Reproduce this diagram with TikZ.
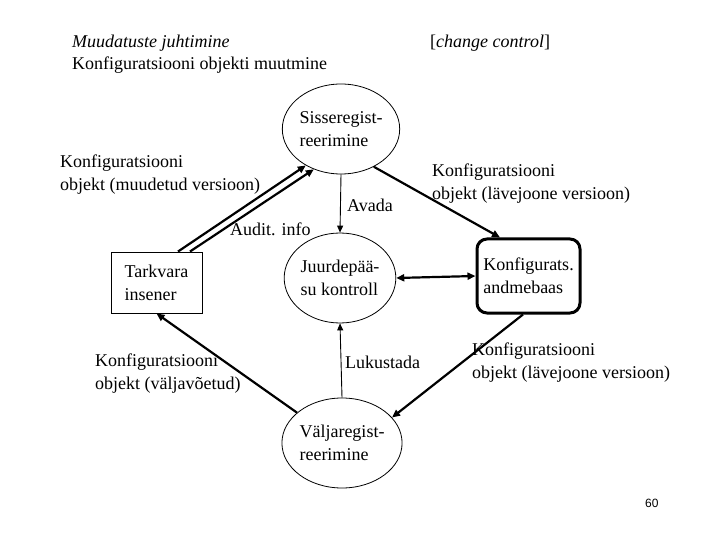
\documentclass[tikz,border=0pt]{standalone}
\usepackage{fontspec}
\setmainfont{Liberation Serif}
\newfontfamily\numfont{Liberation Sans}
\usetikzlibrary{shapes.geometric,arrows.meta}
\begin{document}
\begin{tikzpicture}[x=1bp,y=-1bp,
  every node/.style={font=\fontsize{18bp}{23bp}\selectfont},
  lbl/.style={anchor=west,align=left,inner sep=0pt},
  proc/.style={ellipse,draw,line width=0.8bp,minimum width=97bp,minimum height=90bp,inner sep=0pt,align=left},
  thin/.style={line width=0.9bp,-{Triangle[length=7bp,width=6bp]}},
  bold/.style={line width=2.2bp,-{Triangle[length=8bp,width=7bp]}},
  boldboth/.style={line width=2.2bp,{Triangle[length=8bp,width=7bp]}-{Triangle[length=8bp,width=7bp]}}]
\useasboundingbox (0,0) rectangle (720,540);
\fill[white] (0,0) rectangle (720,540);

% header
\node[lbl] (h1) at (72,43) {\itshape Muudatuste juhtimine};
\node[lbl] (h2) at (72,65) {Konfiguratsiooni objekti muutmine};
\node[lbl] (h3) at (430,43) {[\textit{change control}]};

% nodes
\node[proc] (sis) at (341,129) {Sisseregist-\\reerimine};
\node[proc] (jur) at (340,278) {Juurdepää-\\su kontroll};
\node[proc] (val) at (342,443) {Väljaregist-\\reerimine};
\node[draw,line width=0.9bp,minimum width=91bp,minimum height=61bp,inner sep=0pt,align=left] (tark) at (156.5,282.5) {Tarkvara\\insener};
\node[draw,line width=3bp,rounded corners=10bp,minimum width=103bp,minimum height=74bp,inner sep=0pt,align=left] (db) at (528.5,276) {Konfigurats.\\andmebaas};

% connectors
\draw[bold] ([xshift=21.5bp]tark.north) -- (sis.226);
\draw[bold] ([xshift=33.5bp]tark.north) -- (sis.236);
\draw[bold] (sis.311) -- ([xshift=-28.5bp]db.north);
\draw[thin] (sis.south) -- (jur.north);
\draw[boldboth] (jur.east) -- (db.west);
\draw[bold] ([xshift=-5.5bp]db.south) -- (val.27);
\draw[thin] (val.north) -- (jur.south);
\draw[bold] (val.146) -- (tark.south);

% labels
\node[lbl] (l1) at (60,175) {Konfiguratsiooni\\objekt (muudetud versioon)};
\node[lbl] (l2) at (230,229) {Audit. info};
\node[lbl] (l3) at (347,205) {Avada};
\node[lbl] (l4) at (432,184) {Konfiguratsiooni\\objekt (lävejoone versioon)};
\node[lbl] (l5) at (345,362) {Lukustada};
\node[lbl] (l6) at (472,363) {Konfiguratsiooni\\objekt (lävejoone versioon)};
\node[lbl] (l7) at (95,374) {Konfiguratsiooni\\objekt (väljavõetud)};
\node[lbl,font=\numfont\fontsize{12bp}{14bp}\selectfont] (pg) at (645,503) {60};
\end{tikzpicture}
\end{document}
